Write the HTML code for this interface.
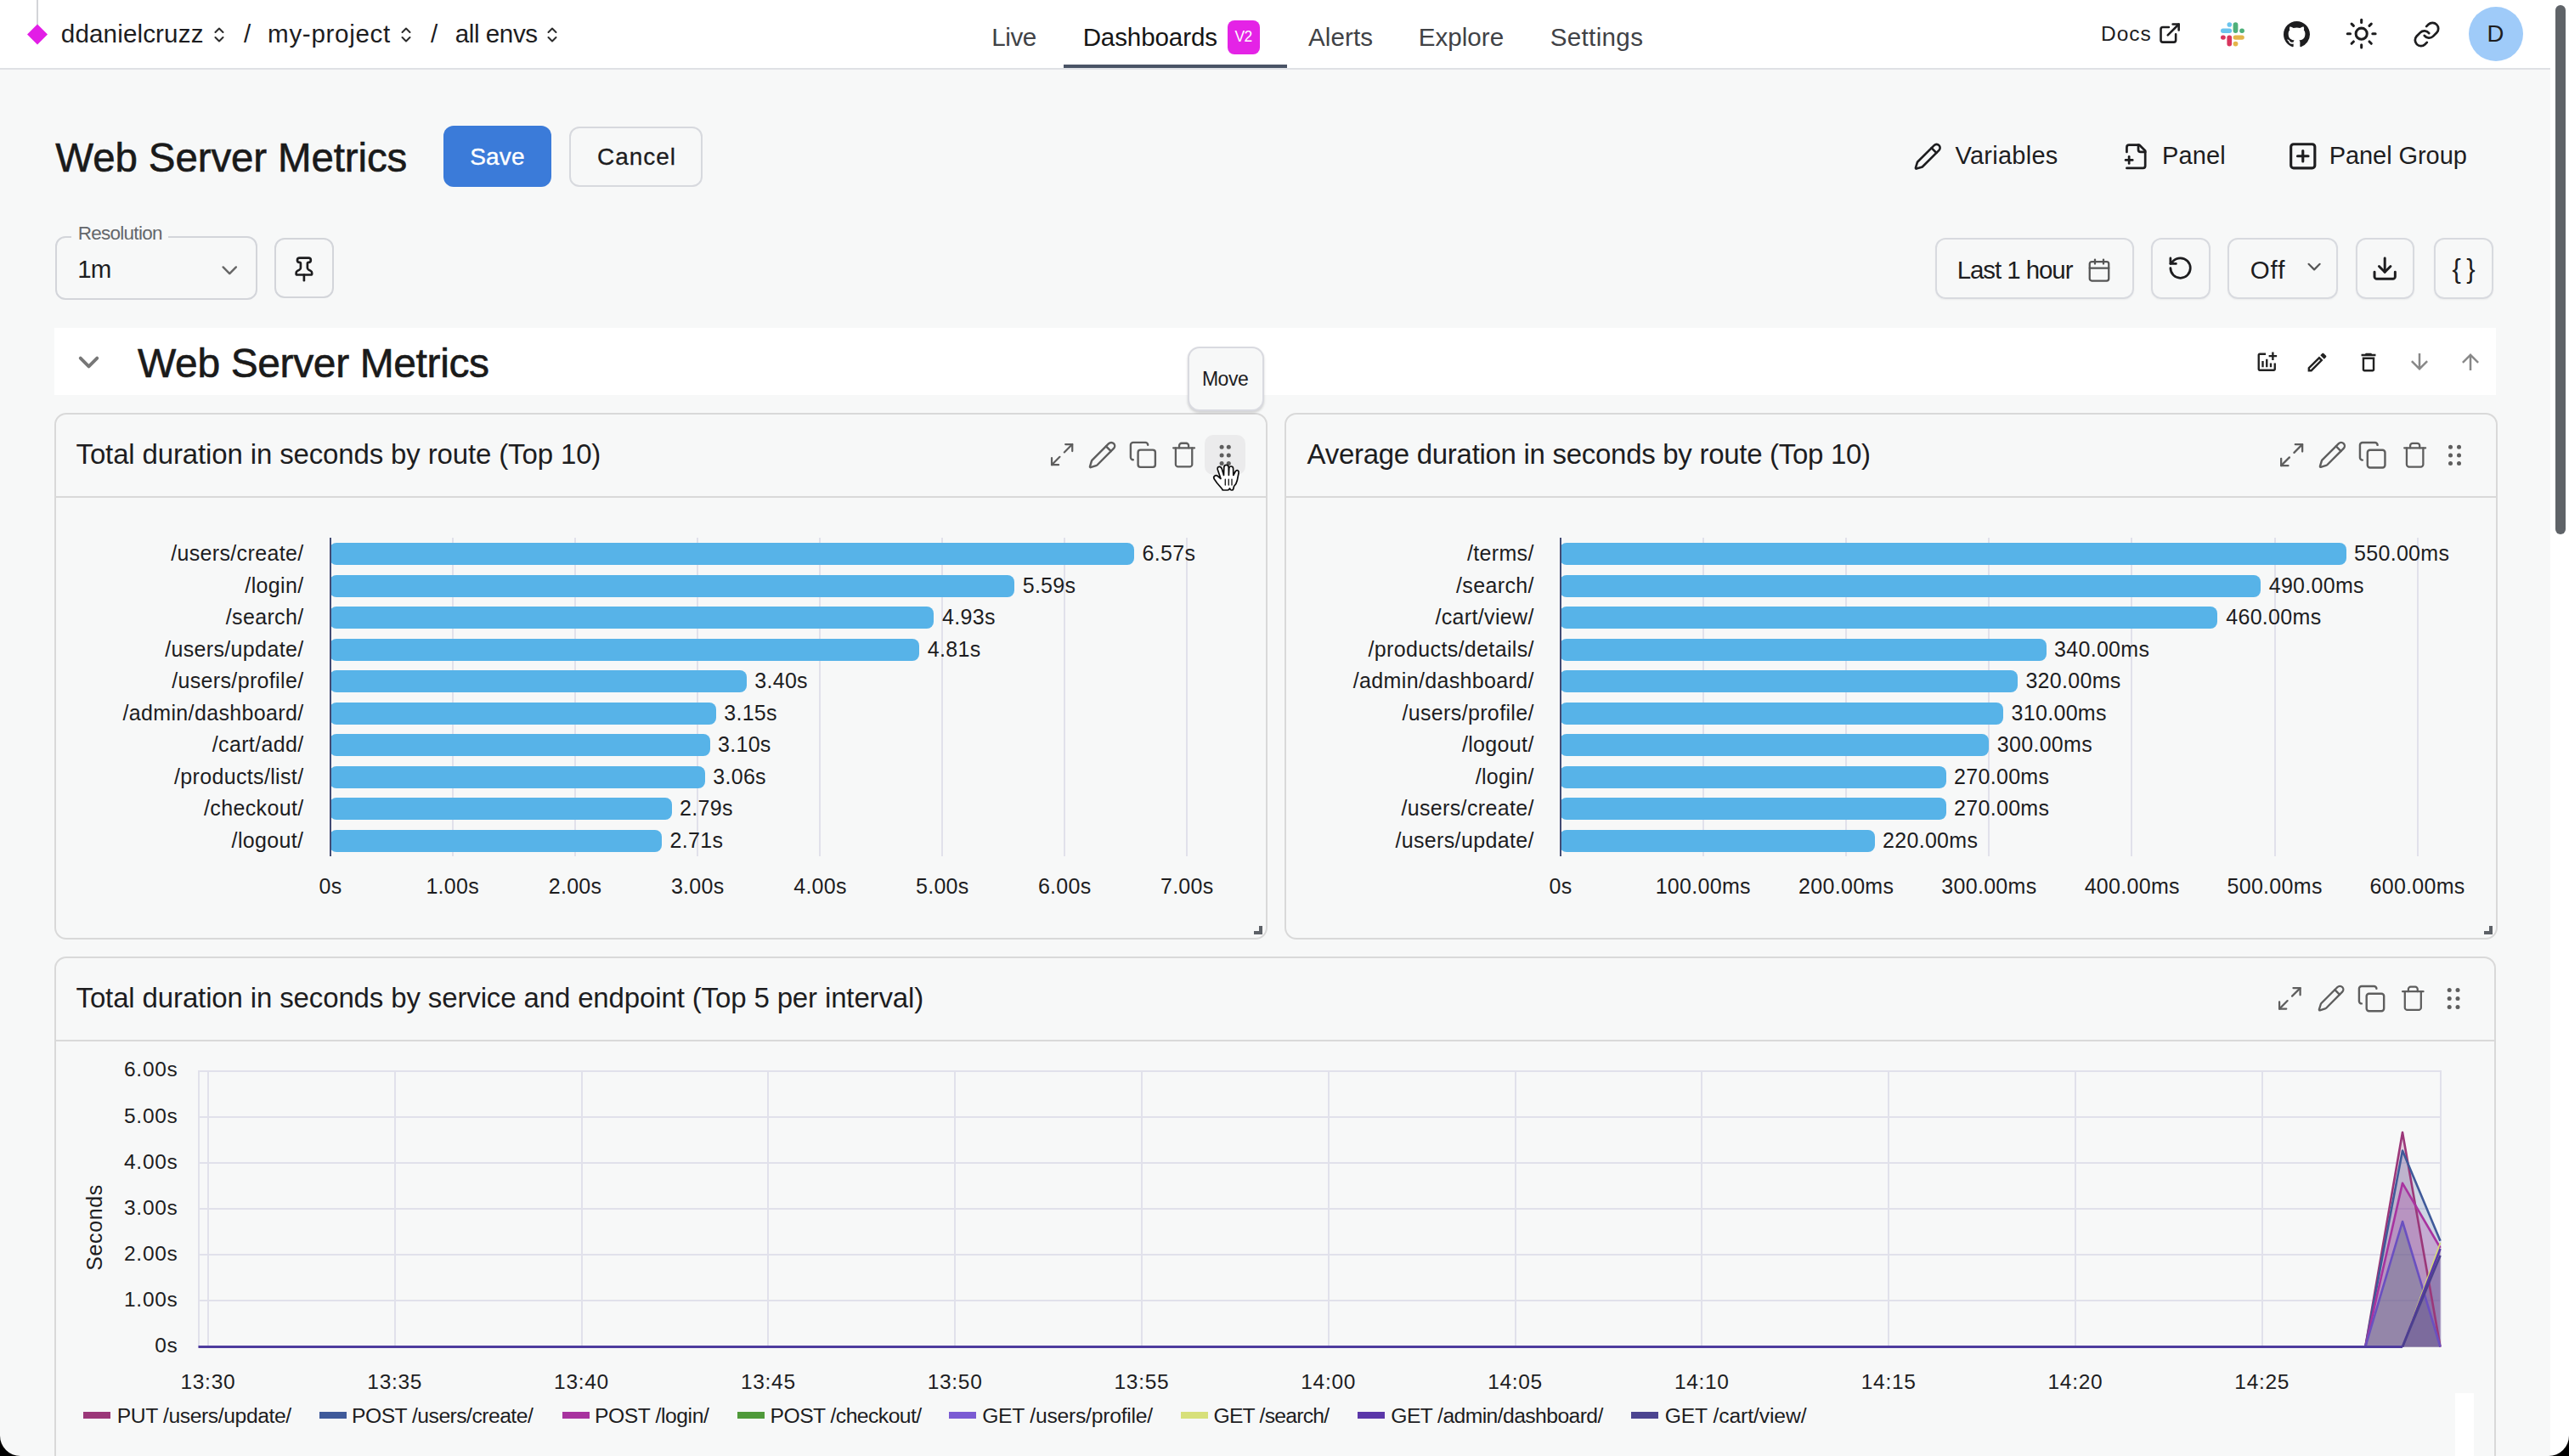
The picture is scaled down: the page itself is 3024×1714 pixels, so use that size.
<!DOCTYPE html><html><head><meta charset="utf-8"><style>html,body{margin:0;padding:0;}body{width:3024px;height:1714px;overflow:hidden;position:relative;background:#f7f8f8;font-family:"Liberation Sans",sans-serif;}</style></head><body>
<div style="position:absolute;left:0.00px;top:0.00px;width:3002.00px;height:80.00px;box-sizing:border-box;background:#fff;"></div>
<div style="position:absolute;left:0.00px;top:80.00px;width:3002.00px;height:2.00px;box-sizing:border-box;background:#dfe1e5;"></div>
<div style="position:absolute;left:43.00px;top:0.00px;width:2.00px;height:29.00px;box-sizing:border-box;background:#d3d5d8;"></div>
<svg style="position:absolute;left:31.00px;top:27.50px;width:26.00px;height:25.00px;overflow:visible;" viewBox="0 0 24 24"><path d="M12 0.5 L23.5 12 L12 23.5 L0.5 12 Z" fill="#e21ee6"/></svg>
<div style="position:absolute;left:71.82px;top:24.94px;font-size:29.6px;line-height:29.6px;color:#1d1d1f;letter-spacing:0.133px;white-space:nowrap;">ddanielcruzz</div>
<svg style="position:absolute;left:252.00px;top:32.00px;width:12.00px;height:18.00px;overflow:visible;" viewBox="0 0 12 18"><g fill="none" stroke="#2a2a2a" stroke-width="2" stroke-linecap="round" stroke-linejoin="round"><path d="M1.5 6 L6 1.5 L10.5 6 M1.5 12 L6 16.5 L10.5 12"/></g></svg>
<div style="position:absolute;left:287.00px;top:24.94px;font-size:29.6px;line-height:29.6px;color:#1d1d1f;white-space:nowrap;">/</div>
<div style="position:absolute;left:315.08px;top:24.94px;font-size:29.6px;line-height:29.6px;color:#1d1d1f;letter-spacing:0.665px;white-space:nowrap;">my-project</div>
<svg style="position:absolute;left:472.00px;top:32.00px;width:12.00px;height:18.00px;overflow:visible;" viewBox="0 0 12 18"><g fill="none" stroke="#2a2a2a" stroke-width="2" stroke-linecap="round" stroke-linejoin="round"><path d="M1.5 6 L6 1.5 L10.5 6 M1.5 12 L6 16.5 L10.5 12"/></g></svg>
<div style="position:absolute;left:507.00px;top:24.94px;font-size:29.6px;line-height:29.6px;color:#1d1d1f;white-space:nowrap;">/</div>
<div style="position:absolute;left:535.82px;top:24.94px;font-size:29.6px;line-height:29.6px;color:#1d1d1f;letter-spacing:-0.446px;white-space:nowrap;">all envs</div>
<svg style="position:absolute;left:644.00px;top:32.00px;width:12.00px;height:18.00px;overflow:visible;" viewBox="0 0 12 18"><g fill="none" stroke="#2a2a2a" stroke-width="2" stroke-linecap="round" stroke-linejoin="round"><path d="M1.5 6 L6 1.5 L10.5 6 M1.5 12 L6 16.5 L10.5 12"/></g></svg>
<div style="position:absolute;left:1167.13px;top:28.94px;font-size:29.6px;line-height:29.6px;color:#404246;letter-spacing:-0.388px;white-space:nowrap;">Live</div>
<div style="position:absolute;left:1274.63px;top:28.94px;font-size:29.6px;line-height:29.6px;color:#151515;letter-spacing:-0.127px;white-space:nowrap;">Dashboards</div>
<div style="position:absolute;left:1445.00px;top:24.00px;width:38.00px;height:39.50px;box-sizing:border-box;background:#e423e6;border-radius:8px;"></div>
<div style="position:absolute;left:1453.61px;top:35.18px;font-size:17.5px;line-height:17.5px;color:#fff;letter-spacing:-0.787px;white-space:nowrap;">V2</div>
<div style="position:absolute;left:1540.00px;top:28.94px;font-size:29.6px;line-height:29.6px;color:#404246;letter-spacing:0.082px;white-space:nowrap;">Alerts</div>
<div style="position:absolute;left:1669.63px;top:28.94px;font-size:29.6px;line-height:29.6px;color:#404246;letter-spacing:0.035px;white-space:nowrap;">Explore</div>
<div style="position:absolute;left:1824.67px;top:28.94px;font-size:29.6px;line-height:29.6px;color:#404246;letter-spacing:0.338px;white-space:nowrap;">Settings</div>
<div style="position:absolute;left:1252.00px;top:76.00px;width:263.00px;height:4.00px;box-sizing:border-box;background:#4a5466;"></div>
<div style="position:absolute;left:2473.04px;top:28.26px;font-size:24.5px;line-height:24.5px;color:#1d1d1f;letter-spacing:0.986px;white-space:nowrap;">Docs</div>
<svg style="position:absolute;left:2539.90px;top:25.40px;width:28.20px;height:28.20px;overflow:visible;" viewBox="0 0 24 24"><g fill="none" stroke="#1d1d1f" stroke-width="2.2" stroke-linecap="round" stroke-linejoin="round" ><path d="M15 3h6v6"/><path d="M10 14 21 3"/><path d="M18 13v6a2 2 0 0 1-2 2H5a2 2 0 0 1-2-2V8a2 2 0 0 1 2-2h6"/></g></svg>
<svg style="position:absolute;left:2614.00px;top:25.80px;width:28.00px;height:28.40px;overflow:visible;" viewBox="0 0 28 28"><rect x="7.5" y="0" width="5.6" height="5.6" rx="2.8" fill="#6bc4ee"/><rect x="0" y="7.2" width="13.1" height="5.5" rx="2.75" fill="#6bc4ee"/><rect x="14.6" y="0" width="5.8" height="12.7" rx="2.9" fill="#4eb07a"/><rect x="22.2" y="7.2" width="5.7" height="5.5" rx="2.75" fill="#4eb07a"/><rect x="0" y="15.2" width="5.8" height="5.4" rx="2.7" fill="#d8365e"/><rect x="7.4" y="15.2" width="5.7" height="13" rx="2.85" fill="#d8365e"/><rect x="14.6" y="15.2" width="13.2" height="5.4" rx="2.7" fill="#e4b54a"/><rect x="14.6" y="22.5" width="5.8" height="5.7" rx="2.85" fill="#e4b54a"/></svg>
<svg style="position:absolute;left:2688.00px;top:25.00px;width:31.00px;height:31.00px;overflow:visible;" viewBox="0 0 16 16"><path fill="#1d1d1f" d="M8 0C3.58 0 0 3.58 0 8c0 3.54 2.29 6.53 5.47 7.59.4.07.55-.17.55-.38 0-.19-.01-.82-.01-1.49-2.01.37-2.53-.49-2.69-.94-.09-.23-.48-.94-.82-1.13-.28-.15-.68-.52-.01-.53.63-.01 1.08.58 1.23.82.72 1.21 1.87.87 2.33.66.07-.52.28-.87.51-1.07-1.78-.2-3.64-.89-3.64-3.95 0-.87.31-1.59.82-2.15-.08-.2-.36-1.02.08-2.12 0 0 .67-.21 2.2.82.64-.18 1.32-.27 2-.27.68 0 1.36.09 2 .27 1.53-1.04 2.2-.82 2.2-.82.44 1.1.16 1.92.08 2.12.51.56.82 1.27.82 2.15 0 3.07-1.87 3.75-3.65 3.95.29.25.54.73.54 1.48 0 1.07-.01 1.93-.01 2.2 0 .21.15.46.55.38A8.013 8.013 0 0016 8c0-4.42-3.58-8-8-8z"/></svg>
<svg style="position:absolute;left:2760.31px;top:20.11px;width:39.38px;height:39.38px;overflow:visible;" viewBox="0 0 24 24"><g fill="none" stroke="#1d1d1f" stroke-width="1.85" stroke-linecap="round" stroke-linejoin="round" ><circle cx="12" cy="12" r="4"/><path d="M12 2v2"/><path d="M12 20v2"/><path d="m4.93 4.93 1.41 1.41"/><path d="m17.66 17.66 1.41 1.41"/><path d="M2 12h2"/><path d="M20 12h2"/><path d="m6.34 17.66-1.41 1.41"/><path d="m19.07 4.93-1.41 1.41"/></g></svg>
<svg style="position:absolute;left:2840.00px;top:23.50px;width:33.00px;height:33.00px;overflow:visible;" viewBox="0 0 24 24"><g fill="none" stroke="#1d1d1f" stroke-width="2" stroke-linecap="round" stroke-linejoin="round" ><path d="M10 13a5 5 0 0 0 7.54.54l3-3a5 5 0 0 0-7.07-7.07l-1.72 1.71"/><path d="M14 11a5 5 0 0 0-7.54-.54l-3 3a5 5 0 0 0 7.07 7.07l1.71-1.71"/></g></svg>
<div style="position:absolute;left:2906.00px;top:8.00px;width:64.00px;height:64.00px;box-sizing:border-box;background:#9fcbf9;border-radius:50%;"></div>
<div style="position:absolute;left:2927.62px;top:26.22px;font-size:27.5px;line-height:27.5px;color:#1d1d1f;white-space:nowrap;">D</div>
<div style="position:absolute;left:65.36px;top:161.78px;font-size:47.5px;line-height:47.5px;color:#1a1a1a;letter-spacing:-0.129px;white-space:nowrap;-webkit-text-stroke:0.6px #1a1a1a;">Web Server Metrics</div>
<div style="position:absolute;left:522.00px;top:148.00px;width:126.50px;height:72.00px;box-sizing:border-box;background:#3b7bd9;border-radius:12px;"></div>
<div style="position:absolute;left:553.24px;top:170.59px;font-size:28px;line-height:28px;color:#fff;letter-spacing:0.180px;white-space:nowrap;-webkit-text-stroke:0.35px #fff;">Save</div>
<div style="position:absolute;left:669.50px;top:148.50px;width:157.50px;height:71.00px;box-sizing:border-box;border:2px solid #d7d9de;border-radius:12px;"></div>
<div style="position:absolute;left:703.10px;top:170.59px;font-size:28px;line-height:28px;color:#1d1d1f;letter-spacing:0.928px;white-space:nowrap;-webkit-text-stroke:0.3px #1d1d1f;">Cancel</div>
<div style="position:absolute;left:64.60px;top:278.00px;width:238.40px;height:75.00px;box-sizing:border-box;border:2px solid #d3d5da;border-radius:12px;"></div>
<div style="position:absolute;left:84.00px;top:270.00px;width:114.00px;height:20.00px;box-sizing:border-box;background:#f7f8f8;"></div>
<div style="position:absolute;left:91.70px;top:264.45px;font-size:22.5px;line-height:22.5px;color:#64676b;letter-spacing:-0.728px;white-space:nowrap;">Resolution</div>
<div style="position:absolute;left:91.29px;top:302.32px;font-size:29.5px;line-height:29.5px;color:#1d1d1f;letter-spacing:-0.875px;white-space:nowrap;">1m</div>
<svg style="position:absolute;left:254.75px;top:302.50px;width:30.50px;height:30.50px;overflow:visible;" viewBox="0 0 24 24"><g fill="none" stroke="#666" stroke-width="1.9" stroke-linecap="round" stroke-linejoin="round" ><path d="m6 9 6 6 6-6"/></g></svg>
<div style="position:absolute;left:322.70px;top:280.00px;width:70.30px;height:71.00px;box-sizing:border-box;border:2px solid #d3d5da;border-radius:12px;"></div>
<svg style="position:absolute;left:342.10px;top:300.60px;width:31.80px;height:31.80px;overflow:visible;" viewBox="0 0 24 24"><g fill="none" stroke="#1d1d1f" stroke-width="2" stroke-linecap="round" stroke-linejoin="round" ><path d="M12 17v5"/><path d="M9 10.76a2 2 0 0 1-1.11 1.79l-1.78.9A2 2 0 0 0 5 15.24V16a1 1 0 0 0 1 1h12a1 1 0 0 0 1-1v-.76a2 2 0 0 0-1.11-1.79l-1.78-.9A2 2 0 0 1 15 10.76V7a1 1 0 0 1 1-1 2 2 0 0 0 0-4H8a2 2 0 0 0 0 4 1 1 0 0 1 1 1z"/></g></svg>
<svg style="position:absolute;left:2252.00px;top:166.75px;width:34.50px;height:34.50px;overflow:visible;" viewBox="0 0 24 24"><g fill="none" stroke="#1d1d1f" stroke-width="1.8" stroke-linecap="round" stroke-linejoin="round" ><path d="M21.174 6.812a1 1 0 0 0-3.986-3.987L3.842 16.174a2 2 0 0 0-.5.83l-1.321 4.352a.5.5 0 0 0 .623.622l4.353-1.32a2 2 0 0 0 .83-.497z"/><path d="m15 5 4 4"/></g></svg>
<div style="position:absolute;left:2301.55px;top:169.45px;font-size:29px;line-height:29px;color:#1d1d1f;letter-spacing:0.251px;white-space:nowrap;">Variables</div>
<svg style="position:absolute;left:2497.68px;top:167.88px;width:32.64px;height:32.64px;overflow:visible;" viewBox="0 0 24 24"><g fill="none" stroke="#1d1d1f" stroke-width="2" stroke-linecap="round" stroke-linejoin="round" ><path d="M4 22h14a2 2 0 0 0 2-2V7l-5-5H6a2 2 0 0 0-2 2v4"/><path d="M14 2v4a2 2 0 0 0 2 2h4"/><path d="M3 15h6"/><path d="M6 12v6"/></g></svg>
<div style="position:absolute;left:2544.88px;top:169.45px;font-size:29px;line-height:29px;color:#1d1d1f;letter-spacing:0.177px;white-space:nowrap;">Panel</div>
<svg style="position:absolute;left:2691.88px;top:165.43px;width:37.53px;height:37.53px;overflow:visible;" viewBox="0 0 24 24"><g fill="none" stroke="#1d1d1f" stroke-width="2" stroke-linecap="round" stroke-linejoin="round" ><rect width="18" height="18" x="3" y="3" rx="2"/><path d="M8 12h8"/><path d="M12 8v8"/></g></svg>
<div style="position:absolute;left:2741.68px;top:169.45px;font-size:29px;line-height:29px;color:#1d1d1f;letter-spacing:-0.066px;white-space:nowrap;">Panel Group</div>
<div style="position:absolute;left:2277.80px;top:280.00px;width:234.20px;height:71.50px;box-sizing:border-box;border:2px solid #d8dadf;border-radius:12px;box-shadow:0 1px 2px rgba(0,0,0,0.05);"></div>
<div style="position:absolute;left:2303.64px;top:302.82px;font-size:29.5px;line-height:29.5px;color:#1d1d1f;letter-spacing:-1.070px;white-space:nowrap;">Last 1 hour</div>
<svg style="position:absolute;left:2456.00px;top:303.00px;width:30.00px;height:30.00px;overflow:visible;" viewBox="0 0 24 24"><g fill="none" stroke="#555" stroke-width="1.8" stroke-linecap="round" stroke-linejoin="round" ><path d="M8 2v4"/><path d="M16 2v4"/><rect width="18" height="18" x="3" y="4" rx="2"/><path d="M3 10h18"/></g></svg>
<div style="position:absolute;left:2532.00px;top:280.00px;width:70.00px;height:71.50px;box-sizing:border-box;border:2px solid #d8dadf;border-radius:12px;box-shadow:0 1px 2px rgba(0,0,0,0.05);"></div>
<svg style="position:absolute;left:2551.40px;top:300.40px;width:31.20px;height:31.20px;overflow:visible;" viewBox="0 0 24 24"><g fill="none" stroke="#1d1d1f" stroke-width="2.1" stroke-linecap="round" stroke-linejoin="round" ><path d="M3 12a9 9 0 1 0 9-9 9.75 9.75 0 0 0-6.74 2.74L3 8"/><path d="M3 3v5h5"/></g></svg>
<div style="position:absolute;left:2621.70px;top:280.00px;width:130.80px;height:71.50px;box-sizing:border-box;border:2px solid #d8dadf;border-radius:12px;box-shadow:0 1px 2px rgba(0,0,0,0.05);"></div>
<div style="position:absolute;left:2648.67px;top:302.82px;font-size:29.5px;line-height:29.5px;color:#1d1d1f;letter-spacing:0.944px;white-space:nowrap;">Off</div>
<svg style="position:absolute;left:2710.90px;top:301.40px;width:26.20px;height:26.20px;overflow:visible;" viewBox="0 0 24 24"><g fill="none" stroke="#555" stroke-width="2" stroke-linecap="round" stroke-linejoin="round" ><path d="m6 9 6 6 6-6"/></g></svg>
<div style="position:absolute;left:2773.00px;top:280.00px;width:69.00px;height:71.50px;box-sizing:border-box;border:2px solid #d8dadf;border-radius:12px;box-shadow:0 1px 2px rgba(0,0,0,0.05);"></div>
<svg style="position:absolute;left:2791.30px;top:300.30px;width:32.40px;height:32.40px;overflow:visible;" viewBox="0 0 24 24"><g fill="none" stroke="#1d1d1f" stroke-width="2.2" stroke-linecap="round" stroke-linejoin="round" ><path d="M21 15v4a2 2 0 0 1-2 2H5a2 2 0 0 1-2-2v-4"/><path d="m7 10 5 5 5-5"/><path d="M12 15V3"/></g></svg>
<div style="position:absolute;left:2865.00px;top:280.00px;width:69.60px;height:71.50px;box-sizing:border-box;border:2px solid #d8dadf;border-radius:12px;box-shadow:0 1px 2px rgba(0,0,0,0.05);"></div>
<div style="position:absolute;left:2886.53px;top:300.75px;font-size:31px;line-height:31px;color:#1d1d1f;letter-spacing:-1.105px;white-space:nowrap;">{ }</div>
<div style="position:absolute;left:64.00px;top:386.00px;width:2874.00px;height:79.00px;box-sizing:border-box;background:#fff;"></div>
<svg style="position:absolute;left:84.50px;top:407.00px;width:39.00px;height:39.00px;overflow:visible;" viewBox="0 0 24 24"><g fill="none" stroke="#777" stroke-width="2.4" stroke-linecap="round" stroke-linejoin="round" ><path d="m6 9 6 6 6-6"/></g></svg>
<div style="position:absolute;left:162.06px;top:404.16px;font-size:48px;line-height:48px;color:#1a1a1a;letter-spacing:-0.386px;white-space:nowrap;-webkit-text-stroke:0.6px #1a1a1a;">Web Server Metrics</div>
<div style="position:absolute;left:64.00px;top:486.00px;width:1428.00px;height:620.00px;box-sizing:border-box;border:2px solid #d9d9d9;border-radius:14px;"></div>
<div style="position:absolute;left:66.00px;top:584.00px;width:1424.00px;height:2.00px;box-sizing:border-box;background:#d9d9d9;"></div>
<div style="position:absolute;left:89.54px;top:517.86px;font-size:33px;line-height:33px;color:#1d1d1f;letter-spacing:-0.140px;white-space:nowrap;">Total duration in seconds by route (Top 10)</div>
<div style="position:absolute;left:1418.00px;top:512.00px;width:48.00px;height:47.00px;box-sizing:border-box;background:#ebebec;border-radius:10px;"></div>
<svg style="position:absolute;left:1233.86px;top:519.36px;width:32.28px;height:32.28px;overflow:visible;" viewBox="0 0 24 24"><g fill="none" stroke="#5e5e5e" stroke-width="1.65" stroke-linecap="round" stroke-linejoin="round" ><path d="M15 3h6v6"/><path d="M9 21H3v-6"/><path d="M21 3l-7 7"/><path d="M3 21l7-7"/></g></svg>
<svg style="position:absolute;left:1280.20px;top:517.95px;width:35.10px;height:35.10px;overflow:visible;" viewBox="0 0 24 24"><g fill="none" stroke="#5e5e5e" stroke-width="1.65" stroke-linecap="round" stroke-linejoin="round" ><path d="M21.174 6.812a1 1 0 0 0-3.986-3.987L3.842 16.174a2 2 0 0 0-.5.83l-1.321 4.352a.5.5 0 0 0 .623.622l4.353-1.32a2 2 0 0 0 .83-.497z"/><path d="m15 5 4 4"/></g></svg>
<svg style="position:absolute;left:1328.10px;top:518.10px;width:34.80px;height:34.80px;overflow:visible;" viewBox="0 0 24 24"><g fill="none" stroke="#5e5e5e" stroke-width="1.65" stroke-linecap="round" stroke-linejoin="round" ><rect width="14" height="14" x="8" y="8" rx="2" ry="2"/><path d="M4 16c-1.1 0-2-.9-2-2V4c0-1.1.9-2 2-2h10c1.1 0 2 .9 2 2"/></g></svg>
<svg style="position:absolute;left:1377.26px;top:518.91px;width:33.18px;height:33.18px;overflow:visible;" viewBox="0 0 24 24"><g fill="none" stroke="#5e5e5e" stroke-width="1.65" stroke-linecap="round" stroke-linejoin="round" ><path d="M3 6h18"/><path d="M19 6v14c0 1-1 2-2 2H7c-1 0-2-1-2-2V6"/><path d="M8 6V4c0-1 1-2 2-2h4c1 0 2 1 2 2v2"/></g></svg>
<svg style="position:absolute;left:0.00px;top:0.00px;width:3024.00px;height:1714.00px;overflow:visible;pointer-events:none;" viewBox="0 0 3024 1714"><circle cx="1438.10" cy="526.30" r="2.50" fill="#5e5e5e"/><circle cx="1438.10" cy="535.90" r="2.50" fill="#5e5e5e"/><circle cx="1438.10" cy="545.50" r="2.50" fill="#5e5e5e"/><circle cx="1446.30" cy="526.30" r="2.50" fill="#5e5e5e"/><circle cx="1446.30" cy="535.90" r="2.50" fill="#5e5e5e"/><circle cx="1446.30" cy="545.50" r="2.50" fill="#5e5e5e"/></svg>
<div style="position:absolute;left:1476.00px;top:1090.00px;width:10.00px;height:10.00px;box-sizing:border-box;border-right:4px solid #5d6167;border-bottom:4px solid #5d6167;"></div>
<div style="position:absolute;left:1512.00px;top:486.00px;width:1428.00px;height:620.00px;box-sizing:border-box;border:2px solid #d9d9d9;border-radius:14px;"></div>
<div style="position:absolute;left:1514.00px;top:584.00px;width:1424.00px;height:2.00px;box-sizing:border-box;background:#d9d9d9;"></div>
<div style="position:absolute;left:1538.60px;top:517.86px;font-size:33px;line-height:33px;color:#1d1d1f;letter-spacing:-0.291px;white-space:nowrap;">Average duration in seconds by route (Top 10)</div>
<svg style="position:absolute;left:2681.10px;top:518.85px;width:33.30px;height:33.30px;overflow:visible;" viewBox="0 0 24 24"><g fill="none" stroke="#5e5e5e" stroke-width="1.65" stroke-linecap="round" stroke-linejoin="round" ><path d="M15 3h6v6"/><path d="M9 21H3v-6"/><path d="M21 3l-7 7"/><path d="M3 21l7-7"/></g></svg>
<svg style="position:absolute;left:2728.10px;top:518.10px;width:34.80px;height:34.80px;overflow:visible;" viewBox="0 0 24 24"><g fill="none" stroke="#5e5e5e" stroke-width="1.65" stroke-linecap="round" stroke-linejoin="round" ><path d="M21.174 6.812a1 1 0 0 0-3.986-3.987L3.842 16.174a2 2 0 0 0-.5.83l-1.321 4.352a.5.5 0 0 0 .623.622l4.353-1.32a2 2 0 0 0 .83-.497z"/><path d="m15 5 4 4"/></g></svg>
<svg style="position:absolute;left:2775.30px;top:517.80px;width:35.40px;height:35.40px;overflow:visible;" viewBox="0 0 24 24"><g fill="none" stroke="#5e5e5e" stroke-width="1.65" stroke-linecap="round" stroke-linejoin="round" ><rect width="14" height="14" x="8" y="8" rx="2" ry="2"/><path d="M4 16c-1.1 0-2-.9-2-2V4c0-1.1.9-2 2-2h10c1.1 0 2 .9 2 2"/></g></svg>
<svg style="position:absolute;left:2825.60px;top:518.85px;width:33.30px;height:33.30px;overflow:visible;" viewBox="0 0 24 24"><g fill="none" stroke="#5e5e5e" stroke-width="1.65" stroke-linecap="round" stroke-linejoin="round" ><path d="M3 6h18"/><path d="M19 6v14c0 1-1 2-2 2H7c-1 0-2-1-2-2V6"/><path d="M8 6V4c0-1 1-2 2-2h4c1 0 2 1 2 2v2"/></g></svg>
<svg style="position:absolute;left:0.00px;top:0.00px;width:3024.00px;height:1714.00px;overflow:visible;pointer-events:none;" viewBox="0 0 3024 1714"><circle cx="2884.50" cy="526.30" r="2.50" fill="#5e5e5e"/><circle cx="2884.50" cy="535.90" r="2.50" fill="#5e5e5e"/><circle cx="2884.50" cy="545.50" r="2.50" fill="#5e5e5e"/><circle cx="2894.50" cy="526.30" r="2.50" fill="#5e5e5e"/><circle cx="2894.50" cy="535.90" r="2.50" fill="#5e5e5e"/><circle cx="2894.50" cy="545.50" r="2.50" fill="#5e5e5e"/></svg>
<div style="position:absolute;left:2924.00px;top:1090.00px;width:10.00px;height:10.00px;box-sizing:border-box;border-right:4px solid #5d6167;border-bottom:4px solid #5d6167;"></div>
<div style="position:absolute;left:532.04px;top:633.00px;width:2.00px;height:375.00px;box-sizing:border-box;background:#e1e1eb;"></div>
<div style="position:absolute;left:676.08px;top:633.00px;width:2.00px;height:375.00px;box-sizing:border-box;background:#e1e1eb;"></div>
<div style="position:absolute;left:820.12px;top:633.00px;width:2.00px;height:375.00px;box-sizing:border-box;background:#e1e1eb;"></div>
<div style="position:absolute;left:964.16px;top:633.00px;width:2.00px;height:375.00px;box-sizing:border-box;background:#e1e1eb;"></div>
<div style="position:absolute;left:1108.20px;top:633.00px;width:2.00px;height:375.00px;box-sizing:border-box;background:#e1e1eb;"></div>
<div style="position:absolute;left:1252.24px;top:633.00px;width:2.00px;height:375.00px;box-sizing:border-box;background:#e1e1eb;"></div>
<div style="position:absolute;left:1396.28px;top:633.00px;width:2.00px;height:375.00px;box-sizing:border-box;background:#e1e1eb;"></div>
<div style="position:absolute;left:387.50px;top:639.00px;width:947.84px;height:26.00px;box-sizing:border-box;background:#57b3e8;border-radius:8px;"></div>
<div style="position:absolute;left:201.15px;top:639.03px;font-size:25px;line-height:25px;color:#1d1d1f;letter-spacing:0.350px;white-space:nowrap;">/users/create/</div>
<div style="position:absolute;left:1344.59px;top:639.03px;font-size:25px;line-height:25px;color:#1d1d1f;letter-spacing:0.300px;white-space:nowrap;">6.57s</div>
<div style="position:absolute;left:387.50px;top:676.50px;width:806.68px;height:26.00px;box-sizing:border-box;background:#57b3e8;border-radius:8px;"></div>
<div style="position:absolute;left:288.35px;top:676.53px;font-size:25px;line-height:25px;color:#1d1d1f;letter-spacing:0.350px;white-space:nowrap;">/login/</div>
<div style="position:absolute;left:1203.68px;top:676.53px;font-size:25px;line-height:25px;color:#1d1d1f;letter-spacing:0.300px;white-space:nowrap;">5.59s</div>
<div style="position:absolute;left:387.50px;top:714.00px;width:711.62px;height:26.00px;box-sizing:border-box;background:#57b3e8;border-radius:8px;"></div>
<div style="position:absolute;left:265.75px;top:714.03px;font-size:25px;line-height:25px;color:#1d1d1f;letter-spacing:0.350px;white-space:nowrap;">/search/</div>
<div style="position:absolute;left:1109.12px;top:714.03px;font-size:25px;line-height:25px;color:#1d1d1f;letter-spacing:0.300px;white-space:nowrap;">4.93s</div>
<div style="position:absolute;left:387.50px;top:751.50px;width:694.33px;height:26.00px;box-sizing:border-box;background:#57b3e8;border-radius:8px;"></div>
<div style="position:absolute;left:194.15px;top:751.53px;font-size:25px;line-height:25px;color:#1d1d1f;letter-spacing:0.350px;white-space:nowrap;">/users/update/</div>
<div style="position:absolute;left:1091.83px;top:751.53px;font-size:25px;line-height:25px;color:#1d1d1f;letter-spacing:0.300px;white-space:nowrap;">4.81s</div>
<div style="position:absolute;left:387.50px;top:789.00px;width:491.24px;height:26.00px;box-sizing:border-box;background:#57b3e8;border-radius:8px;"></div>
<div style="position:absolute;left:202.17px;top:789.03px;font-size:25px;line-height:25px;color:#1d1d1f;letter-spacing:0.350px;white-space:nowrap;">/users/profile/</div>
<div style="position:absolute;left:888.24px;top:789.03px;font-size:25px;line-height:25px;color:#1d1d1f;letter-spacing:0.300px;white-space:nowrap;">3.40s</div>
<div style="position:absolute;left:387.50px;top:826.50px;width:455.23px;height:26.00px;box-sizing:border-box;background:#57b3e8;border-radius:8px;"></div>
<div style="position:absolute;left:144.47px;top:826.53px;font-size:25px;line-height:25px;color:#1d1d1f;letter-spacing:0.350px;white-space:nowrap;">/admin/dashboard/</div>
<div style="position:absolute;left:852.23px;top:826.53px;font-size:25px;line-height:25px;color:#1d1d1f;letter-spacing:0.300px;white-space:nowrap;">3.15s</div>
<div style="position:absolute;left:387.50px;top:864.00px;width:448.02px;height:26.00px;box-sizing:border-box;background:#57b3e8;border-radius:8px;"></div>
<div style="position:absolute;left:249.80px;top:864.03px;font-size:25px;line-height:25px;color:#1d1d1f;letter-spacing:0.350px;white-space:nowrap;">/cart/add/</div>
<div style="position:absolute;left:845.02px;top:864.03px;font-size:25px;line-height:25px;color:#1d1d1f;letter-spacing:0.300px;white-space:nowrap;">3.10s</div>
<div style="position:absolute;left:387.50px;top:901.50px;width:442.26px;height:26.00px;box-sizing:border-box;background:#57b3e8;border-radius:8px;"></div>
<div style="position:absolute;left:204.92px;top:901.53px;font-size:25px;line-height:25px;color:#1d1d1f;letter-spacing:0.350px;white-space:nowrap;">/products/list/</div>
<div style="position:absolute;left:839.26px;top:901.53px;font-size:25px;line-height:25px;color:#1d1d1f;letter-spacing:0.300px;white-space:nowrap;">3.06s</div>
<div style="position:absolute;left:387.50px;top:939.00px;width:403.37px;height:26.00px;box-sizing:border-box;background:#57b3e8;border-radius:8px;"></div>
<div style="position:absolute;left:240.05px;top:939.03px;font-size:25px;line-height:25px;color:#1d1d1f;letter-spacing:0.350px;white-space:nowrap;">/checkout/</div>
<div style="position:absolute;left:800.12px;top:939.03px;font-size:25px;line-height:25px;color:#1d1d1f;letter-spacing:0.300px;white-space:nowrap;">2.79s</div>
<div style="position:absolute;left:387.50px;top:976.50px;width:391.85px;height:26.00px;box-sizing:border-box;background:#57b3e8;border-radius:8px;"></div>
<div style="position:absolute;left:272.62px;top:976.53px;font-size:25px;line-height:25px;color:#1d1d1f;letter-spacing:0.350px;white-space:nowrap;">/logout/</div>
<div style="position:absolute;left:788.60px;top:976.53px;font-size:25px;line-height:25px;color:#1d1d1f;letter-spacing:0.300px;white-space:nowrap;">2.71s</div>
<div style="position:absolute;left:388.00px;top:632.50px;width:2.00px;height:375.50px;box-sizing:border-box;background:#434b73;"></div>
<div style="position:absolute;left:375.60px;top:1031.03px;font-size:25px;line-height:25px;color:#1d1d1f;letter-spacing:0.300px;white-space:nowrap;">0s</div>
<div style="position:absolute;left:501.38px;top:1031.03px;font-size:25px;line-height:25px;color:#1d1d1f;letter-spacing:0.300px;white-space:nowrap;">1.00s</div>
<div style="position:absolute;left:645.73px;top:1031.03px;font-size:25px;line-height:25px;color:#1d1d1f;letter-spacing:0.300px;white-space:nowrap;">2.00s</div>
<div style="position:absolute;left:789.89px;top:1031.03px;font-size:25px;line-height:25px;color:#1d1d1f;letter-spacing:0.300px;white-space:nowrap;">3.00s</div>
<div style="position:absolute;left:934.18px;top:1031.03px;font-size:25px;line-height:25px;color:#1d1d1f;letter-spacing:0.300px;white-space:nowrap;">4.00s</div>
<div style="position:absolute;left:1077.97px;top:1031.03px;font-size:25px;line-height:25px;color:#1d1d1f;letter-spacing:0.300px;white-space:nowrap;">5.00s</div>
<div style="position:absolute;left:1221.89px;top:1031.03px;font-size:25px;line-height:25px;color:#1d1d1f;letter-spacing:0.300px;white-space:nowrap;">6.00s</div>
<div style="position:absolute;left:1365.93px;top:1031.03px;font-size:25px;line-height:25px;color:#1d1d1f;letter-spacing:0.300px;white-space:nowrap;">7.00s</div>
<div style="position:absolute;left:2004.10px;top:633.00px;width:2.00px;height:375.00px;box-sizing:border-box;background:#e1e1eb;"></div>
<div style="position:absolute;left:2172.20px;top:633.00px;width:2.00px;height:375.00px;box-sizing:border-box;background:#e1e1eb;"></div>
<div style="position:absolute;left:2340.30px;top:633.00px;width:2.00px;height:375.00px;box-sizing:border-box;background:#e1e1eb;"></div>
<div style="position:absolute;left:2508.40px;top:633.00px;width:2.00px;height:375.00px;box-sizing:border-box;background:#e1e1eb;"></div>
<div style="position:absolute;left:2676.50px;top:633.00px;width:2.00px;height:375.00px;box-sizing:border-box;background:#e1e1eb;"></div>
<div style="position:absolute;left:2844.60px;top:633.00px;width:2.00px;height:375.00px;box-sizing:border-box;background:#e1e1eb;"></div>
<div style="position:absolute;left:1835.50px;top:639.00px;width:926.05px;height:26.00px;box-sizing:border-box;background:#57b3e8;border-radius:8px;"></div>
<div style="position:absolute;left:1726.90px;top:639.03px;font-size:25px;line-height:25px;color:#1d1d1f;letter-spacing:0.350px;white-space:nowrap;">/terms/</div>
<div style="position:absolute;left:2771.05px;top:639.03px;font-size:25px;line-height:25px;color:#1d1d1f;letter-spacing:0.300px;white-space:nowrap;">550.00ms</div>
<div style="position:absolute;left:1835.50px;top:676.50px;width:825.19px;height:26.00px;box-sizing:border-box;background:#57b3e8;border-radius:8px;"></div>
<div style="position:absolute;left:1714.05px;top:676.53px;font-size:25px;line-height:25px;color:#1d1d1f;letter-spacing:0.350px;white-space:nowrap;">/search/</div>
<div style="position:absolute;left:2670.69px;top:676.53px;font-size:25px;line-height:25px;color:#1d1d1f;letter-spacing:0.300px;white-space:nowrap;">490.00ms</div>
<div style="position:absolute;left:1835.50px;top:714.00px;width:774.76px;height:26.00px;box-sizing:border-box;background:#57b3e8;border-radius:8px;"></div>
<div style="position:absolute;left:1689.38px;top:714.03px;font-size:25px;line-height:25px;color:#1d1d1f;letter-spacing:0.350px;white-space:nowrap;">/cart/view/</div>
<div style="position:absolute;left:2620.26px;top:714.03px;font-size:25px;line-height:25px;color:#1d1d1f;letter-spacing:0.300px;white-space:nowrap;">460.00ms</div>
<div style="position:absolute;left:1835.50px;top:751.50px;width:573.04px;height:26.00px;box-sizing:border-box;background:#57b3e8;border-radius:8px;"></div>
<div style="position:absolute;left:1610.55px;top:751.53px;font-size:25px;line-height:25px;color:#1d1d1f;letter-spacing:0.350px;white-space:nowrap;">/products/details/</div>
<div style="position:absolute;left:2418.04px;top:751.53px;font-size:25px;line-height:25px;color:#1d1d1f;letter-spacing:0.300px;white-space:nowrap;">340.00ms</div>
<div style="position:absolute;left:1835.50px;top:789.00px;width:539.42px;height:26.00px;box-sizing:border-box;background:#57b3e8;border-radius:8px;"></div>
<div style="position:absolute;left:1592.78px;top:789.03px;font-size:25px;line-height:25px;color:#1d1d1f;letter-spacing:0.350px;white-space:nowrap;">/admin/dashboard/</div>
<div style="position:absolute;left:2384.42px;top:789.03px;font-size:25px;line-height:25px;color:#1d1d1f;letter-spacing:0.300px;white-space:nowrap;">320.00ms</div>
<div style="position:absolute;left:1835.50px;top:826.50px;width:522.61px;height:26.00px;box-sizing:border-box;background:#57b3e8;border-radius:8px;"></div>
<div style="position:absolute;left:1650.47px;top:826.53px;font-size:25px;line-height:25px;color:#1d1d1f;letter-spacing:0.350px;white-space:nowrap;">/users/profile/</div>
<div style="position:absolute;left:2367.61px;top:826.53px;font-size:25px;line-height:25px;color:#1d1d1f;letter-spacing:0.300px;white-space:nowrap;">310.00ms</div>
<div style="position:absolute;left:1835.50px;top:864.00px;width:505.80px;height:26.00px;box-sizing:border-box;background:#57b3e8;border-radius:8px;"></div>
<div style="position:absolute;left:1720.92px;top:864.03px;font-size:25px;line-height:25px;color:#1d1d1f;letter-spacing:0.350px;white-space:nowrap;">/logout/</div>
<div style="position:absolute;left:2350.80px;top:864.03px;font-size:25px;line-height:25px;color:#1d1d1f;letter-spacing:0.300px;white-space:nowrap;">300.00ms</div>
<div style="position:absolute;left:1835.50px;top:901.50px;width:455.37px;height:26.00px;box-sizing:border-box;background:#57b3e8;border-radius:8px;"></div>
<div style="position:absolute;left:1736.65px;top:901.53px;font-size:25px;line-height:25px;color:#1d1d1f;letter-spacing:0.350px;white-space:nowrap;">/login/</div>
<div style="position:absolute;left:2300.12px;top:901.53px;font-size:25px;line-height:25px;color:#1d1d1f;letter-spacing:0.300px;white-space:nowrap;">270.00ms</div>
<div style="position:absolute;left:1835.50px;top:939.00px;width:455.37px;height:26.00px;box-sizing:border-box;background:#57b3e8;border-radius:8px;"></div>
<div style="position:absolute;left:1649.45px;top:939.03px;font-size:25px;line-height:25px;color:#1d1d1f;letter-spacing:0.350px;white-space:nowrap;">/users/create/</div>
<div style="position:absolute;left:2300.12px;top:939.03px;font-size:25px;line-height:25px;color:#1d1d1f;letter-spacing:0.300px;white-space:nowrap;">270.00ms</div>
<div style="position:absolute;left:1835.50px;top:976.50px;width:371.32px;height:26.00px;box-sizing:border-box;background:#57b3e8;border-radius:8px;"></div>
<div style="position:absolute;left:1642.45px;top:976.53px;font-size:25px;line-height:25px;color:#1d1d1f;letter-spacing:0.350px;white-space:nowrap;">/users/update/</div>
<div style="position:absolute;left:2216.07px;top:976.53px;font-size:25px;line-height:25px;color:#1d1d1f;letter-spacing:0.300px;white-space:nowrap;">220.00ms</div>
<div style="position:absolute;left:1836.00px;top:632.50px;width:2.00px;height:375.50px;box-sizing:border-box;background:#434b73;"></div>
<div style="position:absolute;left:1823.60px;top:1031.03px;font-size:25px;line-height:25px;color:#1d1d1f;letter-spacing:0.300px;white-space:nowrap;">0s</div>
<div style="position:absolute;left:1948.67px;top:1031.03px;font-size:25px;line-height:25px;color:#1d1d1f;letter-spacing:0.300px;white-space:nowrap;">100.00ms</div>
<div style="position:absolute;left:2117.09px;top:1031.03px;font-size:25px;line-height:25px;color:#1d1d1f;letter-spacing:0.300px;white-space:nowrap;">200.00ms</div>
<div style="position:absolute;left:2285.31px;top:1031.03px;font-size:25px;line-height:25px;color:#1d1d1f;letter-spacing:0.300px;white-space:nowrap;">300.00ms</div>
<div style="position:absolute;left:2453.66px;top:1031.03px;font-size:25px;line-height:25px;color:#1d1d1f;letter-spacing:0.300px;white-space:nowrap;">400.00ms</div>
<div style="position:absolute;left:2621.51px;top:1031.03px;font-size:25px;line-height:25px;color:#1d1d1f;letter-spacing:0.300px;white-space:nowrap;">500.00ms</div>
<div style="position:absolute;left:2789.49px;top:1031.03px;font-size:25px;line-height:25px;color:#1d1d1f;letter-spacing:0.300px;white-space:nowrap;">600.00ms</div>
<div style="position:absolute;left:64.00px;top:1126.00px;width:2874.00px;height:634.00px;box-sizing:border-box;border:2px solid #d9d9d9;border-radius:14px;"></div>
<div style="position:absolute;left:66.00px;top:1224.00px;width:2870.00px;height:2.00px;box-sizing:border-box;background:#d9d9d9;"></div>
<div style="position:absolute;left:89.54px;top:1158.36px;font-size:33px;line-height:33px;color:#1d1d1f;letter-spacing:-0.136px;white-space:nowrap;">Total duration in seconds by service and endpoint (Top 5 per interval)</div>
<svg style="position:absolute;left:2679.40px;top:1159.15px;width:32.70px;height:32.70px;overflow:visible;" viewBox="0 0 24 24"><g fill="none" stroke="#5e5e5e" stroke-width="1.65" stroke-linecap="round" stroke-linejoin="round" ><path d="M15 3h6v6"/><path d="M9 21H3v-6"/><path d="M21 3l-7 7"/><path d="M3 21l7-7"/></g></svg>
<svg style="position:absolute;left:2726.90px;top:1158.40px;width:34.20px;height:34.20px;overflow:visible;" viewBox="0 0 24 24"><g fill="none" stroke="#5e5e5e" stroke-width="1.65" stroke-linecap="round" stroke-linejoin="round" ><path d="M21.174 6.812a1 1 0 0 0-3.986-3.987L3.842 16.174a2 2 0 0 0-.5.83l-1.321 4.352a.5.5 0 0 0 .623.622l4.353-1.32a2 2 0 0 0 .83-.497z"/><path d="m15 5 4 4"/></g></svg>
<svg style="position:absolute;left:2774.20px;top:1157.95px;width:35.10px;height:35.10px;overflow:visible;" viewBox="0 0 24 24"><g fill="none" stroke="#5e5e5e" stroke-width="1.65" stroke-linecap="round" stroke-linejoin="round" ><rect width="14" height="14" x="8" y="8" rx="2" ry="2"/><path d="M4 16c-1.1 0-2-.9-2-2V4c0-1.1.9-2 2-2h10c1.1 0 2 .9 2 2"/></g></svg>
<svg style="position:absolute;left:2823.98px;top:1159.18px;width:32.64px;height:32.64px;overflow:visible;" viewBox="0 0 24 24"><g fill="none" stroke="#5e5e5e" stroke-width="1.65" stroke-linecap="round" stroke-linejoin="round" ><path d="M3 6h18"/><path d="M19 6v14c0 1-1 2-2 2H7c-1 0-2-1-2-2V6"/><path d="M8 6V4c0-1 1-2 2-2h4c1 0 2 1 2 2v2"/></g></svg>
<svg style="position:absolute;left:0.00px;top:0.00px;width:3024.00px;height:1714.00px;overflow:visible;pointer-events:none;" viewBox="0 0 3024 1714"><circle cx="2883.20" cy="1165.50" r="2.50" fill="#5e5e5e"/><circle cx="2883.20" cy="1175.50" r="2.50" fill="#5e5e5e"/><circle cx="2883.20" cy="1185.50" r="2.50" fill="#5e5e5e"/><circle cx="2893.00" cy="1165.50" r="2.50" fill="#5e5e5e"/><circle cx="2893.00" cy="1175.50" r="2.50" fill="#5e5e5e"/><circle cx="2893.00" cy="1185.50" r="2.50" fill="#5e5e5e"/></svg>
<div style="position:absolute;left:232.50px;top:1260.00px;width:2641.00px;height:2.00px;box-sizing:border-box;background:#e1e1eb;"></div>
<div style="position:absolute;left:232.50px;top:1314.08px;width:2641.00px;height:2.00px;box-sizing:border-box;background:#e1e1eb;"></div>
<div style="position:absolute;left:232.50px;top:1368.17px;width:2641.00px;height:2.00px;box-sizing:border-box;background:#e1e1eb;"></div>
<div style="position:absolute;left:232.50px;top:1422.25px;width:2641.00px;height:2.00px;box-sizing:border-box;background:#e1e1eb;"></div>
<div style="position:absolute;left:232.50px;top:1476.33px;width:2641.00px;height:2.00px;box-sizing:border-box;background:#e1e1eb;"></div>
<div style="position:absolute;left:232.50px;top:1530.42px;width:2641.00px;height:2.00px;box-sizing:border-box;background:#e1e1eb;"></div>
<div style="position:absolute;left:244.00px;top:1260.00px;width:2.00px;height:325.50px;box-sizing:border-box;background:#e1e1eb;"></div>
<div style="position:absolute;left:463.80px;top:1260.00px;width:2.00px;height:325.50px;box-sizing:border-box;background:#e1e1eb;"></div>
<div style="position:absolute;left:683.60px;top:1260.00px;width:2.00px;height:325.50px;box-sizing:border-box;background:#e1e1eb;"></div>
<div style="position:absolute;left:903.40px;top:1260.00px;width:2.00px;height:325.50px;box-sizing:border-box;background:#e1e1eb;"></div>
<div style="position:absolute;left:1123.20px;top:1260.00px;width:2.00px;height:325.50px;box-sizing:border-box;background:#e1e1eb;"></div>
<div style="position:absolute;left:1343.00px;top:1260.00px;width:2.00px;height:325.50px;box-sizing:border-box;background:#e1e1eb;"></div>
<div style="position:absolute;left:1562.80px;top:1260.00px;width:2.00px;height:325.50px;box-sizing:border-box;background:#e1e1eb;"></div>
<div style="position:absolute;left:1782.60px;top:1260.00px;width:2.00px;height:325.50px;box-sizing:border-box;background:#e1e1eb;"></div>
<div style="position:absolute;left:2002.40px;top:1260.00px;width:2.00px;height:325.50px;box-sizing:border-box;background:#e1e1eb;"></div>
<div style="position:absolute;left:2222.20px;top:1260.00px;width:2.00px;height:325.50px;box-sizing:border-box;background:#e1e1eb;"></div>
<div style="position:absolute;left:2442.00px;top:1260.00px;width:2.00px;height:325.50px;box-sizing:border-box;background:#e1e1eb;"></div>
<div style="position:absolute;left:2661.80px;top:1260.00px;width:2.00px;height:325.50px;box-sizing:border-box;background:#e1e1eb;"></div>
<div style="position:absolute;left:232.50px;top:1260.00px;width:2.00px;height:325.50px;box-sizing:border-box;background:#e1e1eb;"></div>
<div style="position:absolute;left:2871.50px;top:1260.00px;width:2.00px;height:325.50px;box-sizing:border-box;background:#e1e1eb;"></div>
<div style="position:absolute;left:182.21px;top:1571.96px;font-size:24.5px;line-height:24.5px;color:#1d1d1f;letter-spacing:0.700px;white-space:nowrap;">0s</div>
<div style="position:absolute;left:146.06px;top:1517.87px;font-size:24.5px;line-height:24.5px;color:#1d1d1f;letter-spacing:0.700px;white-space:nowrap;">1.00s</div>
<div style="position:absolute;left:146.06px;top:1463.79px;font-size:24.5px;line-height:24.5px;color:#1d1d1f;letter-spacing:0.700px;white-space:nowrap;">2.00s</div>
<div style="position:absolute;left:146.06px;top:1409.71px;font-size:24.5px;line-height:24.5px;color:#1d1d1f;letter-spacing:0.700px;white-space:nowrap;">3.00s</div>
<div style="position:absolute;left:146.06px;top:1355.62px;font-size:24.5px;line-height:24.5px;color:#1d1d1f;letter-spacing:0.700px;white-space:nowrap;">4.00s</div>
<div style="position:absolute;left:146.06px;top:1301.54px;font-size:24.5px;line-height:24.5px;color:#1d1d1f;letter-spacing:0.700px;white-space:nowrap;">5.00s</div>
<div style="position:absolute;left:146.06px;top:1247.46px;font-size:24.5px;line-height:24.5px;color:#1d1d1f;letter-spacing:0.700px;white-space:nowrap;">6.00s</div>
<div style="position:absolute;left:212.48px;top:1615.06px;font-size:24.5px;line-height:24.5px;color:#1d1d1f;letter-spacing:0.700px;white-space:nowrap;">13:30</div>
<div style="position:absolute;left:432.35px;top:1615.06px;font-size:24.5px;line-height:24.5px;color:#1d1d1f;letter-spacing:0.700px;white-space:nowrap;">13:35</div>
<div style="position:absolute;left:652.09px;top:1615.06px;font-size:24.5px;line-height:24.5px;color:#1d1d1f;letter-spacing:0.700px;white-space:nowrap;">13:40</div>
<div style="position:absolute;left:871.95px;top:1615.06px;font-size:24.5px;line-height:24.5px;color:#1d1d1f;letter-spacing:0.700px;white-space:nowrap;">13:45</div>
<div style="position:absolute;left:1091.68px;top:1615.06px;font-size:24.5px;line-height:24.5px;color:#1d1d1f;letter-spacing:0.700px;white-space:nowrap;">13:50</div>
<div style="position:absolute;left:1311.55px;top:1615.06px;font-size:24.5px;line-height:24.5px;color:#1d1d1f;letter-spacing:0.700px;white-space:nowrap;">13:55</div>
<div style="position:absolute;left:1531.29px;top:1615.06px;font-size:24.5px;line-height:24.5px;color:#1d1d1f;letter-spacing:0.700px;white-space:nowrap;">14:00</div>
<div style="position:absolute;left:1751.15px;top:1615.06px;font-size:24.5px;line-height:24.5px;color:#1d1d1f;letter-spacing:0.700px;white-space:nowrap;">14:05</div>
<div style="position:absolute;left:1970.88px;top:1615.06px;font-size:24.5px;line-height:24.5px;color:#1d1d1f;letter-spacing:0.700px;white-space:nowrap;">14:10</div>
<div style="position:absolute;left:2190.75px;top:1615.06px;font-size:24.5px;line-height:24.5px;color:#1d1d1f;letter-spacing:0.700px;white-space:nowrap;">14:15</div>
<div style="position:absolute;left:2410.49px;top:1615.06px;font-size:24.5px;line-height:24.5px;color:#1d1d1f;letter-spacing:0.700px;white-space:nowrap;">14:20</div>
<div style="position:absolute;left:2630.35px;top:1615.06px;font-size:24.5px;line-height:24.5px;color:#1d1d1f;letter-spacing:0.700px;white-space:nowrap;">14:25</div>
<div style="position:absolute;left:110.5px;top:1445px;transform:translate(-50%,-50%) rotate(-90deg);font-size:25px;line-height:25px;color:#1d1d1f;white-space:nowrap;letter-spacing:0.6px;">Seconds</div>
<svg style="position:absolute;left:0.00px;top:0.00px;width:3024.00px;height:1714.00px;overflow:visible;" viewBox="0 0 3024 1714"><polygon points="2784.3,1585.5 2828.0,1333.0 2872.5,1585.5 2872.5,1585.5 2784.3,1585.5" fill="#9b3779" fill-opacity="0.22" stroke="none"/><polygon points="2784.3,1585.5 2828.0,1354.6 2872.5,1460.8 2872.5,1585.5 2784.3,1585.5" fill="#3f5a9a" fill-opacity="0.22" stroke="none"/><polygon points="2784.3,1585.5 2828.0,1392.8 2872.5,1469.0 2872.5,1585.5 2784.3,1585.5" fill="#a8339f" fill-opacity="0.25" stroke="none"/><polygon points="2784.3,1585.5 2828.0,1438.0 2872.5,1585.5 2872.5,1585.5 2784.3,1585.5" fill="#4f9a3a" fill-opacity="0.22" stroke="none"/><polygon points="2784.3,1585.5 2828.0,1438.0 2872.5,1585.5 2872.5,1585.5 2784.3,1585.5" fill="#6a50c0" fill-opacity="0.22" stroke="none"/><polygon points="2828.0,1585.5 2872.5,1463.0 2872.5,1585.5 2828.0,1585.5" fill="#d6de6e" fill-opacity="0.12" stroke="none"/><polygon points="2828.0,1585.5 2872.5,1470.0 2872.5,1585.5 2828.0,1585.5" fill="#5a38a8" fill-opacity="0.25" stroke="none"/><polygon points="2828.0,1585.5 2872.5,1478.0 2872.5,1585.5 2828.0,1585.5" fill="#4b3f8e" fill-opacity="0.25" stroke="none"/><polyline points="2784.3,1585.5 2828.0,1333.0 2872.5,1585.5" fill="none" stroke="#9b3779" stroke-width="2.6" stroke-linejoin="round"/><polyline points="2784.3,1585.5 2828.0,1354.6 2872.5,1460.8" fill="none" stroke="#3f5a9a" stroke-width="2.6" stroke-linejoin="round"/><polyline points="2784.3,1585.5 2828.0,1392.8 2872.5,1469.0" fill="none" stroke="#a8339f" stroke-width="2.6" stroke-linejoin="round"/><polyline points="2784.3,1585.5 2828.0,1438.0 2872.5,1585.5" fill="none" stroke="#6a50c0" stroke-width="2.6" stroke-linejoin="round"/><polyline points="2828.0,1585.5 2872.5,1463.0" fill="none" stroke="#d6de6e" stroke-width="1.6" stroke-linejoin="round"/><polyline points="2828.0,1585.5 2872.5,1470.0" fill="none" stroke="#5a38a8" stroke-width="2.6" stroke-linejoin="round"/><polyline points="2828.0,1585.5 2872.5,1478.0" fill="none" stroke="#4b3f8e" stroke-width="2.6" stroke-linejoin="round"/><line x1="233.5" y1="1585.5" x2="2828" y2="1585.5" stroke="#4e3c9e" stroke-width="3"/></svg>
<div style="position:absolute;left:97.90px;top:1662.00px;width:32.00px;height:8.00px;box-sizing:border-box;background:#9b3779;"></div>
<div style="position:absolute;left:137.72px;top:1655.09px;font-size:24.7px;line-height:24.7px;color:#1d1d1f;letter-spacing:-0.397px;white-space:nowrap;">PUT /users/update/</div>
<div style="position:absolute;left:376.00px;top:1662.00px;width:32.00px;height:8.00px;box-sizing:border-box;background:#3f5a9a;"></div>
<div style="position:absolute;left:414.02px;top:1655.09px;font-size:24.7px;line-height:24.7px;color:#1d1d1f;letter-spacing:-0.524px;white-space:nowrap;">POST /users/create/</div>
<div style="position:absolute;left:661.50px;top:1662.00px;width:32.00px;height:8.00px;box-sizing:border-box;background:#a8339f;"></div>
<div style="position:absolute;left:700.02px;top:1655.09px;font-size:24.7px;line-height:24.7px;color:#1d1d1f;letter-spacing:-0.427px;white-space:nowrap;">POST /login/</div>
<div style="position:absolute;left:868.00px;top:1662.00px;width:32.00px;height:8.00px;box-sizing:border-box;background:#4f9a3a;"></div>
<div style="position:absolute;left:906.62px;top:1655.09px;font-size:24.7px;line-height:24.7px;color:#1d1d1f;letter-spacing:-0.542px;white-space:nowrap;">POST /checkout/</div>
<div style="position:absolute;left:1116.80px;top:1662.00px;width:32.00px;height:8.00px;box-sizing:border-box;background:#7b5bd3;"></div>
<div style="position:absolute;left:1156.17px;top:1655.09px;font-size:24.7px;line-height:24.7px;color:#1d1d1f;letter-spacing:-0.243px;white-space:nowrap;">GET /users/profile/</div>
<div style="position:absolute;left:1390.00px;top:1662.00px;width:32.00px;height:8.00px;box-sizing:border-box;background:#d7e07a;"></div>
<div style="position:absolute;left:1428.47px;top:1655.09px;font-size:24.7px;line-height:24.7px;color:#1d1d1f;letter-spacing:-0.762px;white-space:nowrap;">GET /search/</div>
<div style="position:absolute;left:1597.90px;top:1662.00px;width:32.00px;height:8.00px;box-sizing:border-box;background:#5b37a9;"></div>
<div style="position:absolute;left:1637.27px;top:1655.09px;font-size:24.7px;line-height:24.7px;color:#1d1d1f;letter-spacing:-0.579px;white-space:nowrap;">GET /admin/dashboard/</div>
<div style="position:absolute;left:1920.20px;top:1662.00px;width:32.00px;height:8.00px;box-sizing:border-box;background:#4c4590;"></div>
<div style="position:absolute;left:1959.67px;top:1655.09px;font-size:24.7px;line-height:24.7px;color:#1d1d1f;letter-spacing:-0.101px;white-space:nowrap;">GET /cart/view/</div>
<div style="position:absolute;left:2890.00px;top:1640.00px;width:22.00px;height:74.00px;box-sizing:border-box;background:#fff;"></div>
<svg style="position:absolute;left:2654.00px;top:411.50px;width:28.50px;height:28.50px;overflow:visible;" viewBox="0 0 24 24"><path fill="#222" stroke="none" d="M22 5v2h-3v3h-2V7h-3V5h3V2h2v3h3zm-3 14H5V5h6V3H5c-1.1 0-2 .9-2 2v14c0 1.1.9 2 2 2h14c1.1 0 2-.9 2-2v-6h-2v6zm-4-6v4h2v-4h-2zm-4 4h2V9h-2v8zm-2 0v-6H7v6h2z"/></svg>
<svg style="position:absolute;left:2713.00px;top:412.00px;width:29.00px;height:29.00px;overflow:visible;" viewBox="0 0 24 24"><path fill="#222" d="M3 17.25V21h3.75L17.81 9.94l-3.75-3.75zM5.92 19H5v-.92l9.06-9.06.92.92zM20.71 5.63l-2.34-2.34c-.2-.2-.45-.29-.71-.29s-.51.1-.7.29l-1.83 1.83 3.75 3.75 1.83-1.83c.39-.39.39-1.02 0-1.41"/></svg>
<svg style="position:absolute;left:2772.00px;top:412.00px;width:32.00px;height:29.00px;overflow:visible;" viewBox="0 0 24 24"><path fill="#222" d="M16 9v10H8V9h8m-1.5-6h-5l-1 1H5v2h14V4h-3.5l-1-1zM18 7H6v12c0 1.1.9 2 2 2h8c1.1 0 2-.9 2-2V7z"/></svg>
<svg style="position:absolute;left:2833.00px;top:411.00px;width:30.00px;height:30.00px;overflow:visible;" viewBox="0 0 24 24"><path fill="#888" d="m20 12-1.41-1.41L13 16.17V4h-2v12.17l-5.58-5.59L4 12l8 8 8-8z"/></svg>
<svg style="position:absolute;left:2893.00px;top:411.00px;width:30.00px;height:30.00px;overflow:visible;" viewBox="0 0 24 24"><path fill="#888" d="m4 12 1.41 1.41L11 7.83V20h2V7.83l5.58 5.59L20 12l-8-8-8 8z"/></svg>
<div style="position:absolute;left:1397.50px;top:408.00px;width:90.00px;height:76.00px;box-sizing:border-box;background:#f7f8f8;border:2px solid #d9dae0;border-radius:14px;box-shadow:0 2px 3px rgba(0,0,0,0.16);"></div>
<div style="position:absolute;left:1414.96px;top:434.53px;font-size:23px;line-height:23px;color:#1d1d1f;letter-spacing:-0.492px;white-space:nowrap;">Move</div>
<svg style="position:absolute;left:1420.00px;top:540.00px;width:50.00px;height:45.00px;overflow:visible;" viewBox="0 0 50 45"><path d="M17 23.5 L13.2 12.5 Q12.8 9.5 15.2 9.3 Q17.2 9.2 18.3 12 L20.5 19.5 L20.8 10 Q21 7.3 23.5 7.3 Q26 7.3 26.2 10 L26.4 19.5 L26.8 11 Q27 9 29.2 9 Q31.4 9 31.6 11.5 L31.8 19.5 L34.2 15 Q35.5 13 37 13.8 Q38.6 14.8 38 17 L36.3 25.5 Q35.5 29.5 32.5 32.5 L31.8 35.5 Q31.5 37 30 37 L29.5 37 Q28.5 37 27.5 35 Q26.5 37 25 37 L20 37 Q18.8 37 18.5 35.5 Q15.5 32 12.5 28.5 L9.2 23.8 Q8 21.5 9.8 20.2 Q11.5 19 13.5 20.5 Z" fill="#fff" stroke="#0d0d0d" stroke-width="1.7" stroke-linejoin="round"/><path d="M22.3 24.3 V31 M26.3 24.3 V31 M30 24.3 V31" stroke="#222" stroke-width="1.4" stroke-linecap="round"/></svg>
<div style="position:absolute;left:3002.00px;top:0.00px;width:22.00px;height:1714.00px;box-sizing:border-box;background:#fff;"></div>
<div style="position:absolute;left:3008.00px;top:6.00px;width:12.00px;height:623.00px;box-sizing:border-box;background:#5f6368;border-radius:6px;"></div>
<svg style="position:absolute;left:0.00px;top:1690.00px;width:24.00px;height:24.00px;overflow:visible;" viewBox="0 0 24 24"><path d="M0 0 V24 H24 A24 24 0 0 1 0 0 Z" fill="#000"/></svg>
<svg style="position:absolute;left:3000.00px;top:1690.00px;width:24.00px;height:24.00px;overflow:visible;" viewBox="0 0 24 24"><path d="M24 0 V24 H0 A24 24 0 0 0 24 0 Z" fill="#000"/></svg>
</body></html>
